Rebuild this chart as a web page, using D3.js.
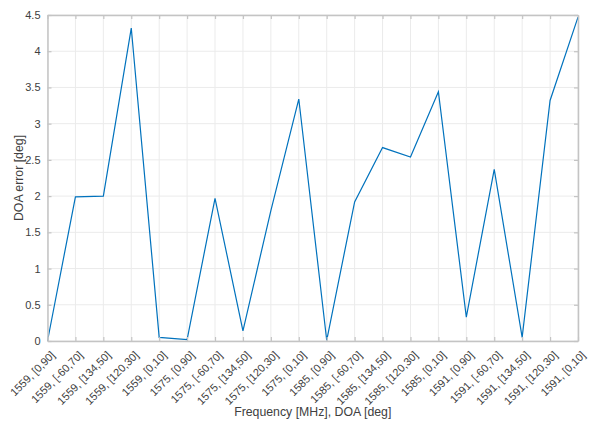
<!DOCTYPE html>
<html>
<head>
<meta charset="utf-8">
<script src="https://cdn.jsdelivr.net/npm/d3@7"></script>
<style>
  body { margin: 0; background: #fff; }
  svg text { font-family: "Liberation Sans", Arial, sans-serif; fill: #404040; }
</style>
</head>
<body>
<div id="chart"></div>
<script>
const frequencies = ["1559", "1575", "1585", "1591"];
const doaSets = ["[0,90]", "[-60,70]", "[134,50]", "[120,30]", "[0,10]"];
const categories = frequencies.flatMap(f => doaSets.map(d => `${f}, ${d}`));
const doaError = [
    0.0, 1.99, 2.0, 4.32, 0.05,
    0.02, 1.97, 0.14, 1.8, 3.34,
    0.01, 1.92, 2.67, 2.54, 3.44,
    0.33, 2.37, 0.05, 3.32, 4.47
];
const yTicks = [0, 0.5, 1, 1.5, 2, 2.5, 3, 3.5, 4, 4.5];

const width = 604, height = 421;
const margin = { top: 15, right: 26, bottom: 80, left: 47.5 };
const innerW = width - margin.left - margin.right;
const innerH = height - margin.top - margin.bottom;

const svg = d3.select("#chart").append("svg")
    .attr("width", width)
    .attr("height", height);

const g = svg.append("g").attr("transform", `translate(${margin.left},${margin.top})`);

const x = d3.scalePoint().domain(categories).range([0, innerW]);
const y = d3.scaleLinear().domain([0, 4.5]).range([innerH, 0]);

// grid
g.append("g").selectAll("line").data(categories).join("line")
    .attr("x1", d => x(d)).attr("x2", d => x(d))
    .attr("y1", 0).attr("y2", innerH)
    .attr("stroke", "#ebebeb").attr("stroke-width", 1);
g.append("g").selectAll("line").data(yTicks).join("line")
    .attr("x1", 0).attr("x2", innerW)
    .attr("y1", d => y(d)).attr("y2", d => y(d))
    .attr("stroke", "#ebebeb").attr("stroke-width", 1);

// line
const line = d3.line().x((d, i) => x(categories[i])).y(d => y(d));
g.append("path").datum(doaError)
    .attr("fill", "none")
    .attr("stroke", "#0072BD")
    .attr("stroke-width", 1.2)
    .attr("stroke-linejoin", "miter")
    .attr("d", line);

// axes (inward ticks, box)
const tickLen = 4;
const axisColor = "#c4c4c4";
const bottomAxis = g.append("g").attr("transform", `translate(0,${innerH})`)
    .call(d3.axisBottom(x).tickSizeInner(-tickLen).tickSizeOuter(0).tickPadding(0));
bottomAxis.selectAll("text")
    .attr("font-size", "11px")
    .attr("text-anchor", "end")
    .attr("y", 0)
    .attr("transform", "translate(5,12) rotate(-45)")
    .attr("dy", "0.35em");

const topAxis = g.append("g")
    .call(d3.axisTop(x).tickSizeInner(-tickLen).tickSizeOuter(0).tickFormat(""));

const leftAxis = g.append("g")
    .call(d3.axisLeft(y).tickValues(yTicks).tickSizeInner(-tickLen).tickSizeOuter(0).tickPadding(7)
        .tickFormat(d3.format("~g")));
leftAxis.selectAll("text").attr("font-size", "11px");

const rightAxis = g.append("g").attr("transform", `translate(${innerW},0)`)
    .call(d3.axisRight(y).tickValues(yTicks).tickSizeInner(-tickLen).tickSizeOuter(0).tickFormat(""));

[bottomAxis, topAxis, leftAxis, rightAxis].forEach(a => {
    a.select(".domain").attr("stroke", axisColor).attr("stroke-width", 1.5);
    a.selectAll(".tick line").attr("stroke", axisColor).attr("stroke-width", 1.2);
});

// labels
svg.append("text")
    .attr("x", margin.left + innerW / 2)
    .attr("y", 416)
    .attr("text-anchor", "middle")
    .attr("font-size", "12.3px")
    .text("Frequency [MHz], DOA [deg]");

svg.append("text")
    .attr("transform", `translate(23,${margin.top + innerH / 2}) rotate(-90)`)
    .attr("text-anchor", "middle")
    .attr("font-size", "12.3px")
    .text("DOA error [deg]");
</script>
</body>
</html>
